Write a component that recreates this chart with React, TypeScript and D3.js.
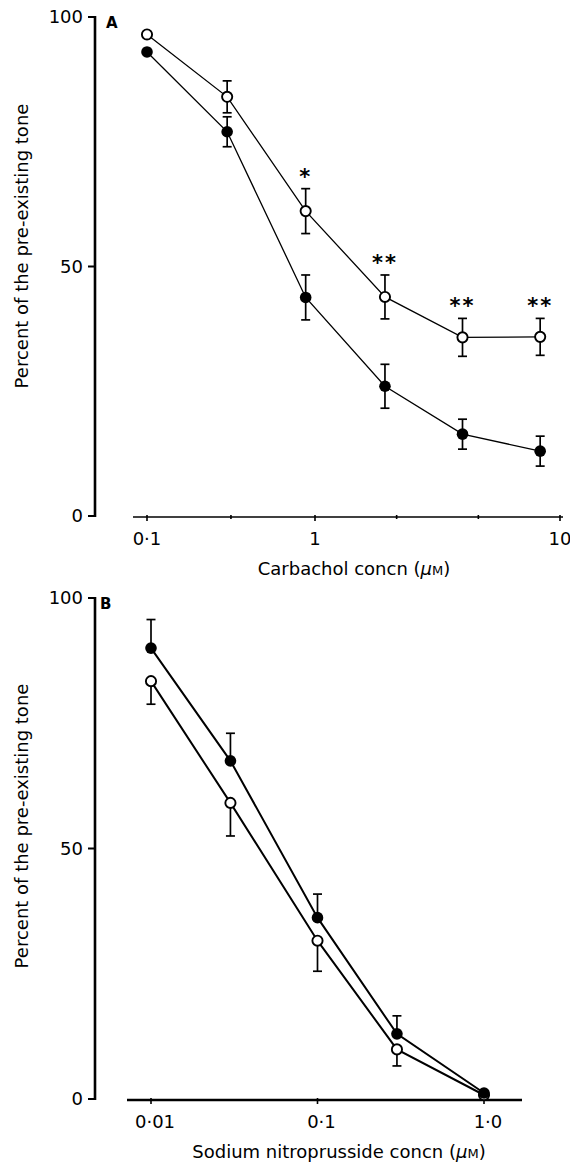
import React from "react";
import * as d3 from "d3";

// Panel A: carbachol
const carbacholConc = [0.1, 0.3, 0.88, 1.93, 4, 8.3];
const carbacholFilled = [93, 77, 43.8, 26, 16.4, 13];
const carbacholFilledErr = [0, 3, 4.5, 4.4, 3, 3];
const carbacholOpen = [96.5, 84, 61.1, 43.9, 35.8, 35.9];
const carbacholOpenErr = [0, 3.2, 4.5, 4.4, 3.8, 3.7];
const carbacholStars = ["", "", "*", "**", "**", "**"];
const carbacholTicks = [0.1, 1, 10];
const carbacholTickLabels = ["0·1", "1", "10"];
const carbacholMinorTicks = [0.316, 2.154, 4.642];

// Panel B: sodium nitroprusside
const nitroConc = [0.01, 0.03, 0.1, 0.3, 1];
const nitroFilled = [90, 67.5, 36.2, 13, 1.2];
const nitroFilledErr = [5.7, 5.5, 4.7, 3.6, 0];
const nitroOpen = [83.4, 59.1, 31.6, 9.9, 0.8];
const nitroOpenErr = [4.6, 6.6, 6.1, 3.3, 0];
const nitroTicks = [0.01, 0.1, 1];
const nitroTickLabels = ["0·01", "0·1", "1·0"];

const yTicks = [0, 50, 100];

const FONT = "'DejaVu Sans', Verdana, sans-serif";

type PanelProps = {
  letter: string;
  x: d3.ScaleLogarithmic<number, number>;
  y: d3.ScaleLinear<number, number>;
  conc: number[];
  filled: number[];
  filledErr: number[];
  open: number[];
  openErr: number[];
  stars?: string[];
  ticks: number[];
  tickLabels: string[];
  minorTicks?: number[];
  axisX: [number, number];
  axisWidth: number;
  lineWidth: number;
  oneSided: boolean;
  labelShift: number;
  xTitle: string;
  xTitleX: number;
  yTitleY: number;
};

const Panel = (p: PanelProps) => {
  const { x, y } = p;
  const y0 = y(0);
  const r = 5.8;
  const line = d3
    .line<number>()
    .x((_, i) => x(p.conc[i]))
    .y((d) => y(d));

  const errBar = (c: number, v: number, e: number, dir: "up" | "down" | "both", key: string) => {
    if (!e) return null;
    const cx = x(c);
    const top = dir === "down" ? y(v) : y(v + e);
    const bot = dir === "up" ? y(v) : y(v - e);
    return (
      <g key={key} stroke="#000" strokeWidth={1.7}>
        <line x1={cx} x2={cx} y1={top} y2={bot} />
        {dir !== "down" && <line x1={cx - 4.5} x2={cx + 4.5} y1={top} y2={top} />}
        {dir !== "up" && <line x1={cx - 4.5} x2={cx + 4.5} y1={bot} y2={bot} />}
      </g>
    );
  };

  return (
    <g fontFamily={FONT}>
      {/* y axis */}
      <line x1={95} x2={95} y1={y(100) - 1} y2={y0 + 1} stroke="#000" strokeWidth={2.6} />
      {yTicks.map((t) => (
        <g key={t}>
          <line x1={88} x2={95} y1={y(t)} y2={y(t)} stroke="#000" strokeWidth={2} />
          <text x={83} y={y(t)} dy="0.36em" textAnchor="end" fontSize={18}>
            {t}
          </text>
        </g>
      ))}
      <text
        transform={`translate(28,${p.yTitleY}) rotate(-90)`}
        textAnchor="middle"
        fontSize={18}
      >
        Percent of the pre-existing tone
      </text>
      <text x={p.letter === "A" ? 106 : 100} y={y(100) + 11} fontSize={15} fontWeight="bold">
        {p.letter}
      </text>

      {/* x axis */}
      <line
        x1={p.axisX[0]}
        x2={p.axisX[1]}
        y1={y0 + 1}
        y2={y0 + 1}
        stroke="#000"
        strokeWidth={p.axisWidth}
      />
      {p.ticks.map((t, i) => (
        <g key={t}>
          <line x1={x(t)} x2={x(t)} y1={y0 - 1} y2={y0 + 5} stroke="#000" strokeWidth={1.6} />
          <text x={x(t) + p.labelShift} y={y0 + 29} textAnchor="middle" fontSize={18}>
            {p.tickLabels[i]}
          </text>
        </g>
      ))}
      {(p.minorTicks || []).map((t) => (
        <line key={t} x1={x(t)} x2={x(t)} y1={y0 - 1} y2={y0 + 3} stroke="#000" strokeWidth={1.6} />
      ))}
      <text x={p.xTitleX} y={y0 + 59} textAnchor="middle" fontSize={18}>
        {p.xTitle}
        <tspan> (</tspan>
        <tspan fontStyle="italic">μ</tspan>
        <tspan fontSize={13}>M</tspan>
        <tspan>)</tspan>
      </text>

      {/* series lines */}
      <path d={line(p.open) || ""} fill="none" stroke="#000" strokeWidth={p.lineWidth} />
      <path d={line(p.filled) || ""} fill="none" stroke="#000" strokeWidth={p.lineWidth} />

      {/* error bars */}
      {p.open.map((v, i) => errBar(p.conc[i], v, p.openErr[i], p.oneSided ? "down" : "both", `oe${i}`))}
      {p.filled.map((v, i) => errBar(p.conc[i], v, p.filledErr[i], p.oneSided ? "up" : "both", `fe${i}`))}

      {/* markers */}
      {p.open.map((v, i) => (
        <circle key={`o${i}`} cx={x(p.conc[i])} cy={y(v)} r={r - 0.7} fill="#fff" stroke="#000" strokeWidth={1.9} />
      ))}
      {p.filled.map((v, i) => (
        <circle key={`f${i}`} cx={x(p.conc[i])} cy={y(v)} r={r} fill="#000" />
      ))}

      {/* significance marks */}
      {(p.stars || []).map((s, i) =>
        s ? (
          <text
            key={`s${i}`}
            x={x(p.conc[i])}
            y={y(p.open[i] + p.openErr[i]) - 5}
            textAnchor="middle"
            fontSize={21}
            fontWeight="bold"
            letterSpacing={2}
          >
            {s}
          </text>
        ) : null
      )}
    </g>
  );
};

export default function App() {
  const xA = d3.scaleLog().domain([0.1, 1, 10]).range([147, 315, 560]);
  const yA = d3.scaleLinear().domain([0, 100]).range([516, 17]);
  const xB = d3.scaleLog().domain([0.01, 1]).range([151, 484]);
  const yB = d3.scaleLinear().domain([0, 100]).range([1099, 598]);

  return (
    <div style={{ position: "absolute", left: 0, top: 0 }}>
      <svg width={570} height={1163} style={{ display: "block", background: "#fff" }}>
        <Panel
          letter="A"
          x={xA}
          y={yA}
          conc={carbacholConc}
          filled={carbacholFilled}
          filledErr={carbacholFilledErr}
          open={carbacholOpen}
          openErr={carbacholOpenErr}
          stars={carbacholStars}
          ticks={carbacholTicks}
          tickLabels={carbacholTickLabels}
          minorTicks={carbacholMinorTicks}
          axisX={[133, 563]}
          axisWidth={1.6}
          lineWidth={1.3}
          oneSided={false}
          labelShift={0}
          xTitle="Carbachol concn"
          xTitleX={354}
          yTitleY={246}
        />
        <Panel
          letter="B"
          x={xB}
          y={yB}
          conc={nitroConc}
          filled={nitroFilled}
          filledErr={nitroFilledErr}
          open={nitroOpen}
          openErr={nitroOpenErr}
          ticks={nitroTicks}
          tickLabels={nitroTickLabels}
          axisX={[127, 522]}
          axisWidth={2.6}
          lineWidth={2}
          oneSided={true}
          labelShift={4}
          xTitle="Sodium nitroprusside concn"
          xTitleX={339}
          yTitleY={826}
        />
      </svg>
    </div>
  );
}
